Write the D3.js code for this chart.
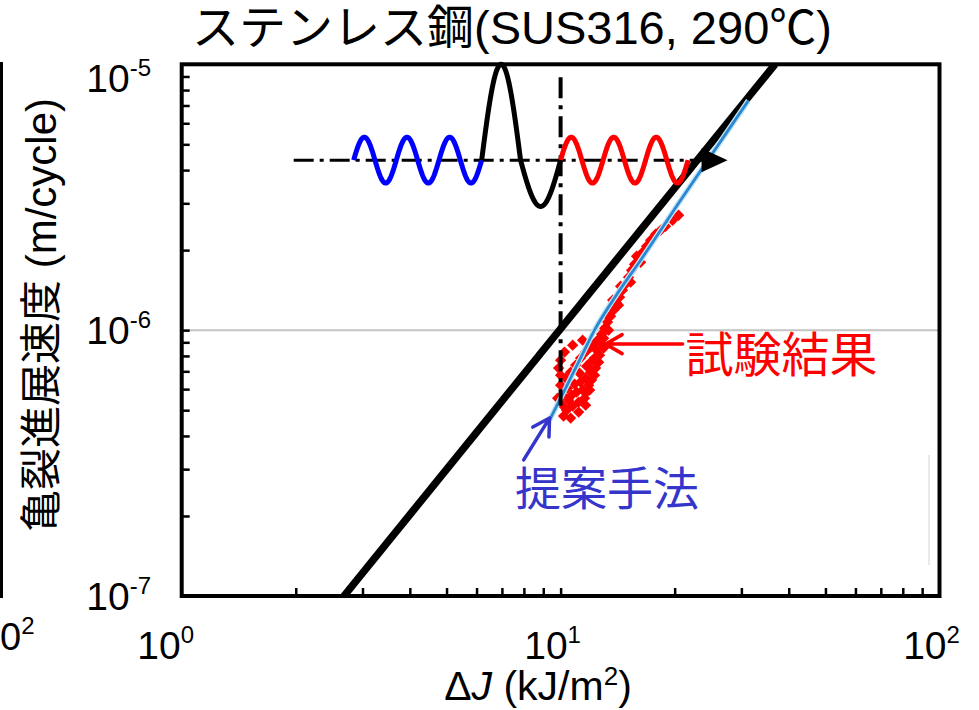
<!DOCTYPE html>
<html><head><meta charset="utf-8">
<script src="https://cdn.jsdelivr.net/npm/d3@7"></script>
<style>body{margin:0;background:#fff} svg{display:block}</style>
</head><body>
<svg id="chart" width="979" height="710"></svg>
<script>
// ---------- data ----------
const xDomain = [1, 100];                 // ΔJ (kJ/m²)
const yDomain = [1e-7, 1e-5];             // da/dN (m/cycle)
const xTickValues = [1, 10, 100];
const xTickExp = ["0", "1", "2"];
const yTickValues = [1e-5, 1e-6, 1e-7];
const yTickExp = ["-5", "-6", "-7"];
const gridRate = [1e-6];

// thick black reference line (two end points)
const masterDJ = [2.68, 36.8];
const masterRate = [1.0e-7, 1.0e-5];

// proposed method (blue line)
const proposedDJ = [9.35, 10.31, 11.29, 12.29, 13.97, 16.26, 20.73, 31.3];
const proposedRate = [4.59e-7, 6.05e-7, 7.85e-7, 1.0e-6, 1.342e-6, 1.833e-6, 3.08e-6, 7.3e-6];

// test results (red diamonds)
const testDJ = [20.48,19.75,18.92,18.36,17.81,17.28,16.86,16.46,16.06,15.67,15.39,15.11,14.84,14.57,14.31,14.05,13.80,13.55,13.30,13.07,12.83,12.60,16.26,15.30,14.22,13.72,13.22,14.40,15.87,
  12.99,12.75,12.45,12.15,12.29,12.00,11.71,12.00,11.64,11.29,11.86,11.43,11.02,11.57,11.16,10.76,10.37,10.18,10.50,10.12,10.00,10.31,10.63,10.96,11.29,11.64,12.00,12.52,10.00,9.88,10.43,10.89,11.22,10.69,11.71,12.07,12.37,12.67,10.12,
  12.99,12.60,12.29,11.93,11.64,11.16,10.63,10.00,10.24,10.76,11.43,13.38,9.82];
const testRate = [2.705e-6,2.59e-6,2.46e-6,2.375e-6,2.296e-6,2.18e-6,2.07e-6,1.965e-6,1.865e-6,1.77e-6,1.68e-6,1.582e-6,1.489e-6,1.414e-6,1.331e-6,1.264e-6,1.189e-6,1.129e-6,1.072e-6,1.017e-6,9.66e-7,9.17e-7,1.80e-6,1.515e-6,1.242e-6,1.297e-6,1.139e-6,1.463e-6,1.897e-6,
  9.33e-7,8.93e-7,8.41e-7,8.78e-7,7.85e-7,7.58e-7,7.32e-7,6.95e-7,6.60e-7,6.38e-7,6.21e-7,5.95e-7,5.85e-7,5.55e-7,5.36e-7,5.18e-7,5.00e-7,4.75e-7,5.45e-7,5.69e-7,6.21e-7,6.60e-7,6.95e-7,7.39e-7,7.85e-7,8.27e-7,8.63e-7,9.17e-7,6.77e-7,7.20e-7,6.05e-7,6.27e-7,6.89e-7,5.69e-7,5.85e-7,6.49e-7,7.20e-7,8.05e-7,5.22e-7,
  8.56e-7,7.58e-7,6.77e-7,5.95e-7,5.22e-7,4.92e-7,4.67e-7,7.71e-7,8.27e-7,8.78e-7,9.17e-7,1.0e-6,5.55e-7];

// schematic load waveform (anchored in data units)
const waveAxisDJ = [1.975, 27.58];      // dash-dot axis start, arrow tip
const waveBaseRate = [4.36e-6];
const blueWaveDJ = [2.843, 6.19];       // 3 cycles
const blackPulseDJ = [6.19, 7.84, 10.0];
const blackPulseRate = [1.0e-5, 2.92e-6]; // crest, trough
const redWaveDJ = [10.0, 21.7];         // 3 cycles
const smallWaveCrestRate = [5.32e-6];
const vLineDJ = [10.0];
const vLineRate = [8.93e-6, 5.2e-7];

// annotations
const labelTest = "試験結果";
const labelProposed = "提案手法";
const titleText = "ステンレス鋼(SUS316, 290℃)";
const yTitle = "亀裂進展速度 (m/cycle)";

// ---------- drawing ----------
const svg = d3.select("#chart");
const W = 979, H = 710;
const plot = {left: 181.7, right: 939.5, top: 64.3, bottom: 596};
const x = d3.scaleLog().domain(xDomain).range([plot.left, plot.right]);
const y = d3.scaleLog().domain(yDomain).range([plot.bottom, plot.top]);
const LAT = "'Liberation Sans', Arial, 'Noto Sans CJK JP', sans-serif";

svg.append("rect").attr("width", W).attr("height", H).attr("fill", "#fff");
svg.append("defs").append("clipPath").attr("id", "clip").append("rect")
  .attr("x", plot.left).attr("y", plot.top)
  .attr("width", plot.right - plot.left).attr("height", plot.bottom - plot.top);

// neighbouring-panel remnants at the left edge
svg.append("line").attr("x1", 1.5).attr("x2", 1.5).attr("y1", 62).attr("y2", 598)
  .attr("stroke", "#000").attr("stroke-width", 3);
svg.append("text").attr("x", 0).attr("y", 650)
  .attr("font-family", LAT).attr("font-size", 38)
  .call(t => { t.append("tspan").text("0"); t.append("tspan").attr("font-size", 24).attr("dy", -16).text("2"); });

// faint vertical artefact
svg.append("line").attr("x1", 929).attr("x2", 929).attr("y1", 455).attr("y2", 565)
  .attr("stroke", "#e2e2e2").attr("stroke-width", 1.5);

// gridline at 1e-6
svg.selectAll(".grid").data(gridRate).join("line").attr("class", "grid")
  .attr("x1", x(xDomain[0])).attr("x2", x(xDomain[1]))
  .attr("y1", d => y(d)).attr("y2", d => y(d))
  .attr("stroke", "#c4c4c4").attr("stroke-width", 2);

const g = svg.append("g").attr("clip-path", "url(#clip)");

// black reference line
const masterPts = masterDJ.map((d, i) => [d, masterRate[i]]);
g.append("path").datum(masterPts)
  .attr("d", d3.line().x(d => x(d[0])).y(d => y(d[1])))
  .attr("fill", "none").attr("stroke", "#000").attr("stroke-width", 7.5);

// red diamonds
const testPts = testDJ.map((d, i) => [d, testRate[i]]);
g.selectAll(".pt").data(testPts).join("path").attr("class", "pt")
  .attr("d", d3.symbol().type(d3.symbolSquare).size(64))
  .attr("transform", d => `translate(${x(d[0])},${y(d[1])}) rotate(45)`)
  .attr("fill", "#ff0000");

// blue proposed line
const propPts = proposedDJ.map((d, i) => [d, proposedRate[i]]);
g.append("path").datum(propPts)
  .attr("d", d3.line().curve(d3.curveMonotoneX).x(d => x(d[0])).y(d => y(d[1])))
  .attr("fill", "none").attr("stroke", "#bfe3f7").attr("stroke-width", 5.5);
g.append("path").datum(propPts)
  .attr("d", d3.line().curve(d3.curveMonotoneX).x(d => x(d[0])).y(d => y(d[1])))
  .attr("fill", "none").attr("stroke", "#2b87cf").attr("stroke-width", 2.8);

// vertical dash-dot at ΔJ = 10
svg.append("line")
  .attr("x1", x(vLineDJ[0])).attr("x2", x(vLineDJ[0]))
  .attr("y1", y(vLineRate[0])).attr("y2", y(vLineRate[1]))
  .attr("stroke", "#000").attr("stroke-width", 4).attr("stroke-dasharray", "21,7,4,7");

// waveform schematic
const yb = y(waveBaseRate[0]);
const xa0 = x(waveAxisDJ[0]), xtip = x(waveAxisDJ[1]);
svg.append("line").attr("x1", xa0).attr("x2", xtip - 24).attr("y1", yb).attr("y2", yb)
  .attr("stroke", "#000").attr("stroke-width", 3).attr("stroke-dasharray", "20,6,4,6");
svg.append("path")
  .attr("d", `M${xtip},${yb} L${xtip - 26},${yb - 12} L${xtip - 26},${yb + 12} Z`)
  .attr("fill", "#000");

function sinePts(x0, x1, amp, cycles, n) {
  const pts = [];
  for (let i = 0; i <= n; i++) {
    const t = i / n;
    pts.push([x0 + t * (x1 - x0), yb - amp * Math.sin(2 * Math.PI * cycles * t)]);
  }
  return pts;
}
const smallAmp = yb - y(smallWaveCrestRate[0]);
const line = d3.line();
svg.append("path").attr("d", line(sinePts(x(blueWaveDJ[0]), x(blueWaveDJ[1]), smallAmp, 3, 240)))
  .attr("fill", "none").attr("stroke", "#0000ff").attr("stroke-width", 5).attr("stroke-linejoin", "round");
svg.append("path").attr("d", line(sinePts(x(redWaveDJ[0]), x(redWaveDJ[1]), smallAmp, 3, 240)))
  .attr("fill", "none").attr("stroke", "#ff0000").attr("stroke-width", 5).attr("stroke-linejoin", "round");
const upAmp = yb - y(blackPulseRate[0]);
const dnAmp = y(blackPulseRate[1]) - yb;
const pulse = sinePts(x(blackPulseDJ[0]), x(blackPulseDJ[1]), upAmp, 0.5, 120)
  .concat(sinePts(x(blackPulseDJ[1]), x(blackPulseDJ[2]), -dnAmp, 0.5, 120));
svg.append("path").attr("d", line(pulse))
  .attr("fill", "none").attr("stroke", "#000").attr("stroke-width", 5).attr("stroke-linejoin", "round");

// annotation arrows
function arrow(x0, y0, x1, y1, color, w) {
  const dx = x0 - x1, dy = y0 - y1, L = Math.hypot(dx, dy);
  const ux = dx / L, uy = dy / L, a = Math.PI / 6, len = 19;
  const r = s => [x1 + len * (ux * Math.cos(s * a) - uy * Math.sin(s * a)), y1 + len * (ux * Math.sin(s * a) + uy * Math.cos(s * a))];
  const p1 = r(1), p2 = r(-1);
  svg.append("path").attr("d", `M${x0},${y0} L${x1},${y1} M${p1[0]},${p1[1]} L${x1},${y1} L${p2[0]},${p2[1]}`)
    .attr("fill", "none").attr("stroke", color).attr("stroke-width", w).attr("stroke-linecap", "round").attr("stroke-linejoin", "round");
}
arrow(x(20.99), y(8.86e-7), x(13.15), y(8.86e-7), "#ff0000", 3.5);
arrow(x(7.99), y(3.25e-7), x(9.35), y(4.67e-7), "#3535cc", 3.5);

svg.append("text").attr("x", x(21.37)).attr("y", y(6.95e-7))
  .attr("font-family", "'Noto Sans CJK JP', sans-serif").attr("font-size", 48)
  .attr("fill", "#ff0000").text(labelTest);
svg.append("text").attr("x", x(7.58)).attr("y", y(2.2e-7))
  .attr("font-family", "'Noto Sans CJK JP', sans-serif").attr("font-size", 46)
  .attr("fill", "#3535cc").text(labelProposed);

// frame
svg.append("rect").attr("x", plot.left).attr("y", plot.top)
  .attr("width", plot.right - plot.left).attr("height", plot.bottom - plot.top)
  .attr("fill", "none").attr("stroke", "#000").attr("stroke-width", 4);

// minor ticks (inside)
const xa = svg.append("g").attr("transform", `translate(0,${plot.bottom})`)
  .call(d3.axisBottom(x).tickValues(x.ticks().filter(v => v > xDomain[0] && v < xDomain[1])).tickSize(-8).tickFormat(""));
xa.select(".domain").remove();
xa.selectAll("line").attr("stroke-width", 2.5);
const ya = svg.append("g").attr("transform", `translate(${plot.left},0)`)
  .call(d3.axisLeft(y).tickValues(y.ticks().filter(v => v > yDomain[0] * 1.01 && v < yDomain[1] * 0.99)).tickSize(-8).tickFormat(""));
ya.select(".domain").remove();
ya.selectAll("line").attr("stroke-width", 2.5);

// tick labels
xTickValues.forEach((v, i) => {
  const t = svg.append("text").attr("x", x(v) - (i === 0 ? 16 : 8)).attr("y", 659)
    .attr("text-anchor", "middle").attr("font-family", LAT).attr("font-size", 39);
  t.append("tspan").text("10");
  t.append("tspan").attr("font-size", 24).attr("dy", -16).text(xTickExp[i]);
});
yTickValues.forEach((v, i) => {
  const cy = Math.max(y(v), 78);
  const t = svg.append("text").attr("x", 151).attr("y", cy + 14)
    .attr("text-anchor", "end").attr("font-family", LAT).attr("font-size", 39);
  t.append("tspan").text("10");
  t.append("tspan").attr("font-size", 24).attr("dy", -16).text(yTickExp[i]);
});

// axis titles
const xt = svg.append("text").attr("x", 538).attr("y", 700).attr("text-anchor", "middle")
  .attr("font-family", LAT).attr("font-size", 41);
xt.append("tspan").text("Δ");
xt.append("tspan").attr("font-style", "italic").text("J");
xt.append("tspan").text(" (kJ/m");
xt.append("tspan").attr("font-size", 26).attr("dy", -15).text("2");
xt.append("tspan").attr("dy", 15).text(")");

svg.append("text").attr("transform", "translate(56,315) rotate(-90)")
  .attr("text-anchor", "middle").attr("font-family", LAT).attr("font-size", 42).text(yTitle);

svg.append("text").attr("x", 512).attr("y", 44).attr("text-anchor", "middle")
  .attr("font-family", LAT).attr("font-size", 47).text(titleText);
</script>
</body></html>
